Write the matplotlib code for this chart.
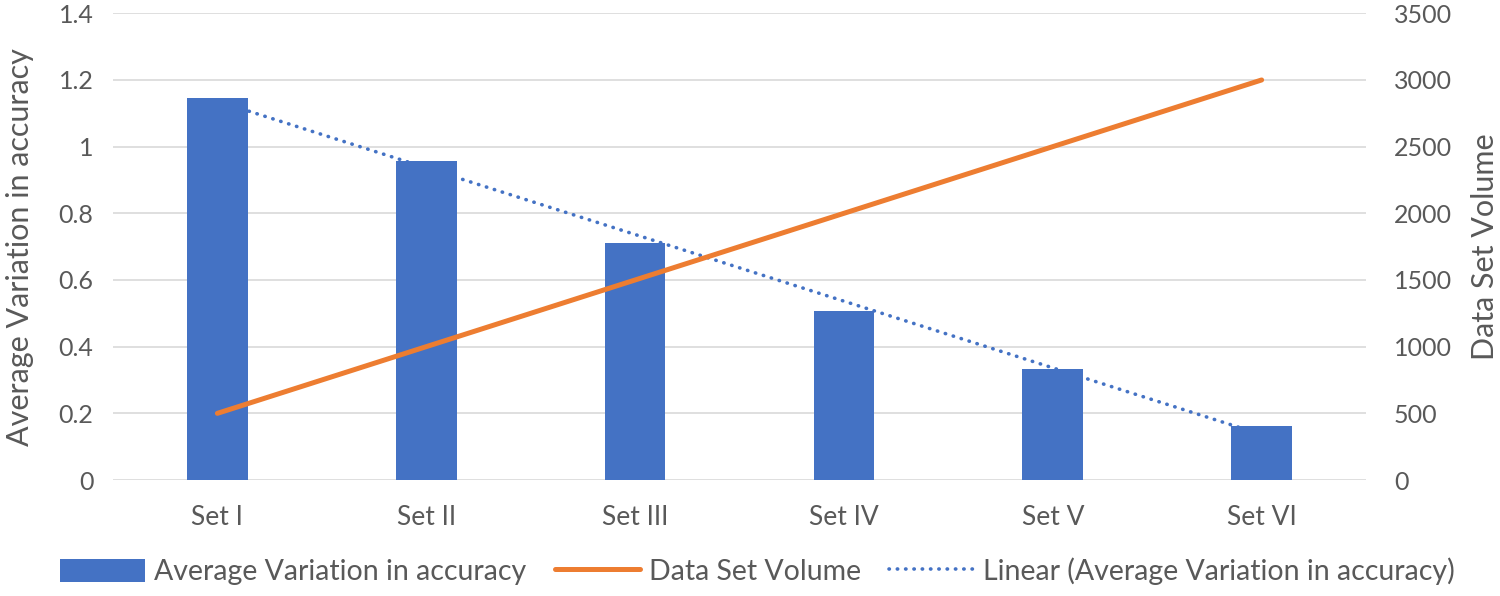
import numpy as np
import matplotlib
matplotlib.use("Agg")
import matplotlib.pyplot as plt

plt.rcParams['font.family'] = ['Lato', 'DejaVu Sans']

# Data
sets = ['Set I', 'Set II', 'Set III', 'Set IV', 'Set V', 'Set VI']
avg_variation = [1.147, 0.957, 0.712, 0.508, 0.333, 0.162]
data_volume = [500, 1000, 1500, 2000, 2500, 3000]

blue = '#4472C4'
orange = '#ED7D31'
grey = '#595959'

fig = plt.figure(figsize=(15, 5.96), dpi=100)
ax = fig.add_axes([0.0753, 0.1946, 0.8354, 0.7831])
ax2 = ax.twinx()

x = np.arange(len(sets))
ax.bar(x, avg_variation, width=0.29, color=blue, zorder=2,
       label='Average Variation in accuracy')

# Excel-style linear trendline
k, b = np.polyfit(x, avg_variation, 1)
trend, = ax.plot(x, k * x + b, color=blue, lw=2.6, linestyle=(0, (0.1, 2.2)),
                 dash_capstyle='round', zorder=3,
                 label='Linear (Average Variation in accuracy)')

vol, = ax2.plot(x, data_volume, color=orange, lw=3.6, solid_capstyle='round',
                zorder=4, label='Data Set Volume')

ax.set_xlim(-0.5, len(sets) - 0.5)
ax.set_ylim(0, 1.4)
ax.set_yticks(np.arange(0, 1.41, 0.2))
ax.set_yticklabels(['0', '0.2', '0.4', '0.6', '0.8', '1', '1.2', '1.4'])
ax2.set_ylim(0, 3500)
ax2.set_yticks(np.arange(0, 3501, 500))

ax.set_xticks(x)
ax.set_xticklabels(sets)
ax.grid(axis='y', color='#D9D9D9', lw=1.2, zorder=0)

for a in (ax, ax2):
    for s in a.spines.values():
        s.set_visible(False)
    a.tick_params(length=0, labelsize=18, labelcolor=grey)
ax.tick_params(axis='x', pad=18, labelsize=19)
ax.tick_params(axis='y', pad=14)
ax2.tick_params(axis='y', pad=20)

ax.set_ylabel('Average Variation in accuracy', fontsize=22, color=grey, labelpad=18)
ax2.set_ylabel('Data Set Volume', fontsize=22, color=grey, labelpad=14)

h1, l1 = ax.get_legend_handles_labels()
handles = [h1[1], vol, trend]
labels = [l1[1], 'Data Set Volume', l1[0]]
fig.legend(handles, labels, loc='lower center', ncol=3, frameon=False,
           fontsize=20.5, labelcolor=grey, bbox_to_anchor=(0.505, -0.025),
           handlelength=3.0, handleheight=0.9, columnspacing=1.0, handletextpad=0.3)

fig.savefig('out.png', dpi=100)
